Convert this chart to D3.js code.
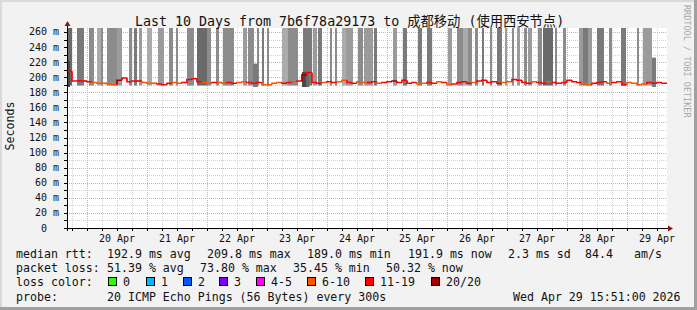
<!DOCTYPE html>
<html>
<head>
<meta charset="utf-8">
<script src="https://cdn.jsdelivr.net/npm/d3@7/dist/d3.min.js"></script>
<style>
    body { margin: 0; background: #f2f2f2; }
    svg { display: block; }
    text { font-family: "DejaVu Sans Mono", "Noto Sans CJK SC", monospace; white-space: pre; }
</style>
</head>
<body>
<div id="chart"></div>
<script>
// fenêtre de temps (10 jours)
const startTime = new Date(Date.UTC(2026, 3, 19, 16, 0));
const endTime = new Date(Date.UTC(2026, 3, 29, 16, 0));
const yMax = 265.3;
const yTicks = [0, 20, 40, 60, 80, 100, 120, 140, 160, 180, 200, 220, 240, 260];

// médiane rtt (ms), un point toutes les 2 heures
const medianRtt = [
    208, 195, 195, 195, 194, 193, 192, 192, 191, 190,
    196, 199, 194, 195, 195, 193, 192, 192, 191, 190,
    192, 193, 192, 193, 197, 198, 194, 193, 192, 193,
    193, 192, 193, 192, 193, 194, 193, 192, 193, 190,
    190, 192, 193, 192, 193, 194, 195, 203, 206, 193,
    192, 193, 194, 193, 194, 196, 193, 192, 194, 193,
    193, 194, 192, 193, 194, 195, 193, 196, 192, 193,
    191, 192, 193, 192, 194, 193, 190, 191, 193, 194,
    192, 193, 195, 196, 193, 194, 192, 193, 194, 197,
    196, 193, 192, 194, 193, 192, 194, 193, 192, 193,
    196, 194, 193, 191, 190, 192, 193, 194, 192, 193,
    194, 190, 193, 192, 190, 191, 193, 192, 193, 192
];
// pings perdus sur 20, même pas de temps
const lostPings = [
    12, 12, 12, 12, 12, 10, 10, 10, 10, 10,
    20, 12, 12, 12, 12, 10, 10, 10, 12, 12,
    12, 10, 10, 12, 12, 12, 12, 10, 10, 12,
    10, 10, 12, 12, 10, 10, 12, 12, 12, 10,
    10, 10, 10, 12, 12, 10, 12, 20, 12, 12,
    12, 10, 12, 12, 10, 10, 12, 12, 10, 10,
    12, 12, 10, 12, 12, 20, 12, 12, 12, 12,
    10, 10, 12, 12, 10, 12, 10, 12, 12, 12,
    12, 10, 12, 12, 12, 12, 12, 10, 10, 12,
    12, 12, 12, 10, 12, 12, 10, 12, 12, 12,
    12, 12, 12, 10, 10, 12, 12, 12, 10, 12,
    12, 12, 10, 10, 10, 10, 12, 12, 12, 12
];

// fumée : [heure début, heure fin, densité 1..6] (heures depuis le début)
const smokeBars = [
    [0, 2, 5], [4, 6.8, 4], [8.8, 10.8, 3], [12, 13.6, 1], [13.6, 14.4, 3],
    [16, 20, 3], [20, 22, 2], [24.8, 26, 3], [26.8, 28, 4], [28.8, 30, 2],
    [32, 34, 1], [36.4, 38.8, 2], [40.8, 42.4, 3], [43.6, 44.4, 3], [48, 50.8, 3],
    [52, 56, 5], [56, 57.6, 3], [59.6, 60.8, 3], [62.4, 66.8, 3], [70.4, 72, 2],
    [72.4, 74.8, 3], [76, 76.8, 3], [78, 78.8, 4], [80, 80.8, 3], [86, 88.4, 1],
    [88.4, 92.4, 3], [94.4, 98, 4], [98.4, 100, 2], [100.4, 102, 4], [105.2, 106, 3],
    [107.2, 108, 3], [110, 111.6, 1], [111.6, 114.4, 2], [116.4, 118.4, 3], [118.8, 122.4, 2],
    [122.8, 124, 4], [130.4, 132, 2], [134.4, 136, 4], [140.4, 142, 4], [144, 146, 4],
    [152.4, 154, 2], [156, 158.4, 3], [158.4, 160.4, 1], [160.4, 162, 3], [163.2, 164.4, 3],
    [166, 166.8, 4], [169.2, 170, 3], [172, 174, 4], [175.2, 176, 2], [178, 178.8, 3],
    [180, 181.2, 2], [182.8, 184, 3], [184.4, 186, 2], [188.4, 190, 3], [190.4, 194.4, 5],
    [195.2, 196, 3], [198.4, 199.6, 3], [204.8, 206.4, 2], [206.4, 208.4, 4], [208.4, 210, 2],
    [212, 214.8, 4], [216.8, 218, 3], [221.6, 223.6, 4], [228, 228.8, 3], [230.4, 234, 2]
];
// fumée courte : [heure début, heure fin, rtt max (ms), densité]
const smokeShort = [
    [0, 1.2, 222, 6], [74.4, 76.4, 218, 4], [94, 95.6, 207, 6], [95.6, 97, 203, 5], [234, 235.6, 226, 4]
];

const lossLabels = ['0', '1', '2', '3', '4-5', '6-10', '11-19', '20/20'];
const lossColors = ['#26ff00', '#00b8ff', '#0059ff', '#7e00ff', '#ff00ff', '#ff5500', '#ff0000', '#a10000'];
const rttStats = ['192.9 ms avg', '209.8 ms max', '189.0 ms min', '191.9 ms now', '2.3 ms sd', '84.4', 'am/s'];
const lossStats = ['51.39 % avg', '73.80 % max', '35.45 % min', '50.32 % now'];

const width = 697, height = 310;
const plot = { left: 67, right: 667, top: 28, bottom: 228 };

const svg = d3.select('#chart')
    .append('svg')
    .attr('width', width)
    .attr('height', height)
    .attr('xml:space', 'preserve');

// fond et cadre
svg.append('rect').attr('width', width).attr('height', height).attr('fill', '#f2f2f2');
svg.append('rect').attr('x', 0).attr('y', 0).attr('width', width).attr('height', 2).attr('fill', '#dadada');
svg.append('rect').attr('x', 0).attr('y', 0).attr('width', 2).attr('height', height).attr('fill', '#dadada');
svg.append('rect').attr('x', width - 3).attr('y', 0).attr('width', 3).attr('height', height).attr('fill', '#a0a0a0');
svg.append('rect').attr('x', 0).attr('y', height - 3).attr('width', width).attr('height', 3).attr('fill', '#a0a0a0');

const x = d3.scaleUtc().domain([startTime, endTime]).range([plot.left, plot.right]);
const y = d3.scaleLinear().domain([0, yMax]).range([plot.bottom, plot.top]);
const hour = h => new Date(startTime.getTime() + h * 3600e3);

svg.append('rect')
    .attr('x', plot.left).attr('y', plot.top)
    .attr('width', plot.right - plot.left).attr('height', plot.bottom - plot.top)
    .attr('fill', 'white');

// grille
const grid = svg.append('g');
const minorY = d3.range(10, yMax, 10).filter(v => v % 20 !== 0);
grid.selectAll('.gy').data(minorY).enter().append('line')
    .attr('x1', plot.left).attr('x2', plot.right)
    .attr('y1', d => Math.round(y(d)) + 0.5).attr('y2', d => Math.round(y(d)) + 0.5)
    .attr('stroke', '#d4d4d4').attr('stroke-dasharray', '1,1');
const minorX = d3.utcHour.every(6).range(startTime, endTime).filter(d => d.getUTCHours() !== 0);
grid.selectAll('.gx').data(minorX).enter().append('line')
    .attr('x1', d => Math.round(x(d)) + 0.5).attr('x2', d => Math.round(x(d)) + 0.5)
    .attr('y1', plot.top).attr('y2', plot.bottom)
    .attr('stroke', '#d4d4d4').attr('stroke-dasharray', '1,1');
grid.selectAll('.my').data(yTicks.filter(v => v > 0)).enter().append('line')
    .attr('x1', plot.left).attr('x2', plot.right)
    .attr('y1', d => Math.round(y(d)) + 0.5).attr('y2', d => Math.round(y(d)) + 0.5)
    .attr('stroke', '#f4a0a0').attr('stroke-dasharray', '1,1');
const days = d3.utcDay.range(startTime, endTime);
grid.selectAll('.mx').data(days).enter().append('line')
    .attr('x1', d => Math.round(x(d)) + 0.5).attr('x2', d => Math.round(x(d)) + 0.5)
    .attr('y1', plot.top).attr('y2', plot.bottom)
    .attr('stroke', '#f4a0a0').attr('stroke-dasharray', '1,1');

// fumée
const shade = d3.scaleOrdinal().domain([1, 2, 3, 4, 5, 6])
    .range(['#ababab', '#9b9b9b', '#8c8c8c', '#7a7a7a', '#6a6a6a', '#4a4a4a']);
const smoke = svg.append('g');
smoke.selectAll('.bar').data(smokeBars).enter().append('rect')
    .attr('x', d => x(hour(d[0])))
    .attr('width', d => x(hour(d[1])) - x(hour(d[0])))
    .attr('y', y(yMax))
    .attr('height', y(189) - y(yMax))
    .attr('fill', d => shade(d[2]));
smoke.selectAll('.short').data(smokeShort).enter().append('rect')
    .attr('x', d => x(hour(d[0])))
    .attr('width', d => x(hour(d[1])) - x(hour(d[0])))
    .attr('y', d => y(d[2]))
    .attr('height', d => y(187) - y(d[2]))
    .attr('fill', d => shade(d[3]));

// médiane colorée selon la perte
const lossIndex = n => n === 0 ? 0 : n === 1 ? 1 : n === 2 ? 2 : n === 3 ? 3 : n <= 5 ? 4 : n <= 10 ? 5 : n < 20 ? 6 : 7;
const line = svg.append('g').attr('fill', 'none').attr('stroke-width', 1.7);
medianRtt.forEach((v, i) => {
    const x0 = x(hour(i * 2)), x1 = x(hour(i * 2 + 2));
    const yPrev = y(i > 0 ? medianRtt[i - 1] : v);
    line.append('path')
        .attr('d', `M${x0},${yPrev}V${y(v)}H${x1}`)
        .attr('stroke', lossColors[lossIndex(lostPings[i])]);
});

// axes
const axes = svg.append('g');
axes.append('line').attr('x1', plot.left - 3).attr('x2', plot.right + 3)
    .attr('y1', plot.bottom + 0.5).attr('y2', plot.bottom + 0.5).attr('stroke', 'black');
axes.append('line').attr('x1', plot.left + 0.5).attr('x2', plot.left + 0.5)
    .attr('y1', plot.bottom + 3).attr('y2', plot.top - 2).attr('stroke', 'black');
axes.append('path').attr('d', `M${plot.left - 2.5},${plot.top - 2}L${plot.left + 3.5},${plot.top - 2}L${plot.left + 0.5},${plot.top - 7}Z`)
    .attr('fill', '#8b1a1a');
axes.append('path').attr('d', `M${plot.right + 1},${plot.bottom - 2.5}L${plot.right + 1},${plot.bottom + 3.5}L${plot.right + 6},${plot.bottom + 0.5}Z`)
    .attr('fill', '#8b1a1a');
axes.selectAll('.tx').data(d3.utcHour.every(6).range(startTime, endTime)).enter().append('line')
    .attr('x1', d => Math.round(x(d)) + 0.5).attr('x2', d => Math.round(x(d)) + 0.5)
    .attr('y1', plot.bottom).attr('y2', plot.bottom + 3).attr('stroke', 'black');
axes.selectAll('.ty').data(d3.range(0, yMax, 10)).enter().append('line')
    .attr('x1', plot.left - 3).attr('x2', plot.left)
    .attr('y1', d => Math.round(y(d)) + 0.5).attr('y2', d => Math.round(y(d)) + 0.5).attr('stroke', 'black');

// libellés des axes
svg.append('g').selectAll('text').data(yTicks).enter().append('text')
    .attr('x', 59).attr('y', d => y(d) + 3.5)
    .attr('text-anchor', 'end')
    .style('font-size', '10px').attr('fill', '#111')
    .text(d => d === 0 ? '0  ' : `${d} m`);
const noons = days.map(d => d3.utcHour.offset(d, 12)).filter(d => d < endTime);
svg.append('g').selectAll('text').data(noons).enter().append('text')
    .attr('x', d => x(d)).attr('y', 242)
    .attr('text-anchor', 'middle')
    .style('font-size', '10px').attr('fill', '#111')
    .text(d3.utcFormat('%d Apr'));

// titres
svg.append('text').attr('x', 135).attr('y', 26)
    .style('font-size', '13.3px').attr('fill', '#111')
    .text('Last 10 Days from 7b6f78a29173 to 成都移动 (使用西安节点)');
svg.append('text').attr('transform', 'translate(14,126) rotate(-90)')
    .attr('text-anchor', 'middle').style('font-size', '11.6px').attr('fill', '#111')
    .text('Seconds');
svg.append('text').attr('transform', 'translate(684,5) rotate(90)')
    .style('font-size', '8.5px').attr('fill', '#a8a8a8')
    .text('RRDTOOL / TOBI OETIKER');

// légende
const legend = svg.append('g').style('font-size', '11.6px').attr('fill', '#111');
const rows = [257.5, 271.5, 286, 300.5];
legend.append('text').attr('x', 16).attr('y', rows[0]).text('median rtt:');
const rttX = [107, 207, 307, 408, 508, 585, 634];
rttStats.forEach((s, i) => legend.append('text').attr('x', rttX[i]).attr('y', rows[0]).text(s));
legend.append('text').attr('x', 16).attr('y', rows[1]).text('packet loss:');
lossStats.forEach((s, i) => legend.append('text').attr('x', 107 + i * 93).attr('y', rows[1]).text(s));
legend.append('text').attr('x', 16).attr('y', rows[2]).text('loss color:');
const swatchX = [108, 146, 183, 219, 256, 307, 365, 431];
lossLabels.forEach((l, i) => {
    legend.append('rect').attr('x', swatchX[i] + 0.5).attr('y', 277.5)
        .attr('width', 8).attr('height', 8)
        .attr('fill', lossColors[i]).attr('stroke', 'black');
    legend.append('text').attr('x', swatchX[i] + 15).attr('y', rows[2]).text(l);
});
legend.append('text').attr('x', 16).attr('y', rows[3]).text('probe:');
legend.append('text').attr('x', 107).attr('y', rows[3]).text('20 ICMP Echo Pings (56 Bytes) every 300s');
legend.append('text').attr('x', 513).attr('y', rows[3]).text('Wed Apr 29 15:51:00 2026');
</script>
</body>
</html>
